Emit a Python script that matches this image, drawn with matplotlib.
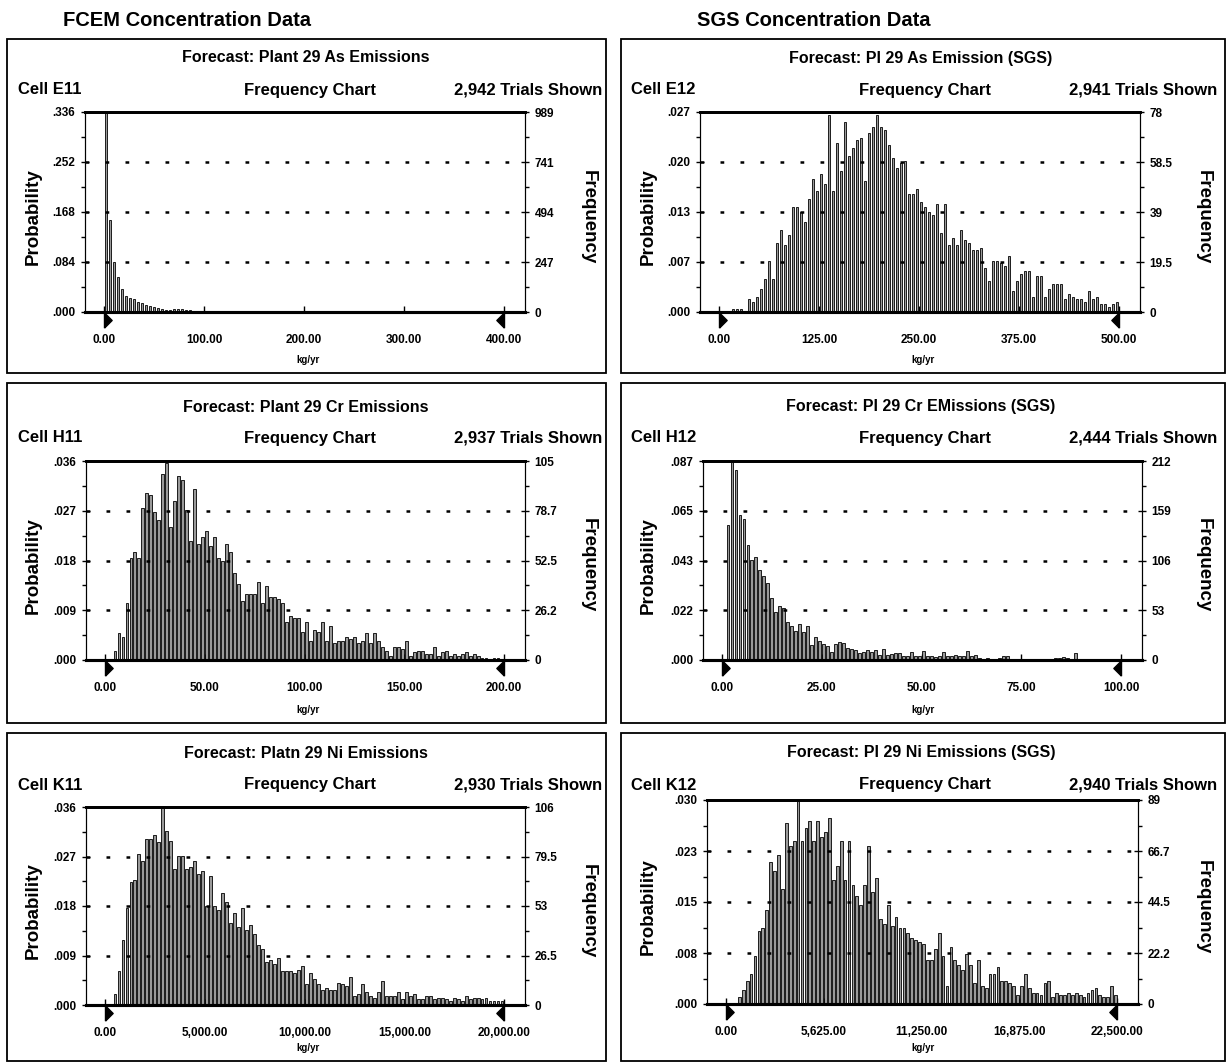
import matplotlib
matplotlib.use("Agg")
import matplotlib.pyplot as plt
from matplotlib.patches import Rectangle

plt.rcParams['font.family'] = ['Liberation Sans', 'DejaVu Sans']
plt.rcParams['font.weight'] = 'bold'

W, H = 1230, 1062

# ---- data (counts per cell, 100 cells each) ----
as_fcem = [985, 455, 245, 172, 112, 80, 70, 62, 50, 42, 35, 30, 24,
           20, 16, 12, 12, 14, 15, 13, 10,
           8, 6, 5, 4, 5, 5, 6, 4, 6, 3,
           3, 2, 2, 1, 2, 1, 1, 2, 1, 1,
           1, 0, 1, 1, 0, 1, 0, 0, 1, 0, 1, 0, 0, 1, 0, 0, 0, 0, 0] + [0] * 40

as_sgs = [0, 0, 0, 1, 1, 1, 0,
          5, 4, 6, 9, 13, 20, 13, 27, 32, 26, 30, 41, 41, 39, 35, 44, 52, 47, 54, 50,
          77, 47, 66, 55, 74, 61, 64, 67, 68, 51, 70, 72, 77, 72, 71, 65, 60, 56, 58, 59,
          46, 46, 48, 43, 41, 39, 38, 42, 31, 42, 26, 29, 26, 32, 28, 27, 24, 24, 25, 17,
          12, 20, 20, 19, 18, 22, 8, 12, 15, 16, 16, 6, 14, 14, 6, 9, 11, 11, 11, 5,
          7, 6, 5, 5, 4, 8, 5, 6, 3, 3, 2, 3, 4]

cr_fcem = [0, 0,
           5, 14, 12, 30, 54, 57, 54, 80, 88, 87, 78, 74, 98, 104, 70, 84, 97, 95, 79, 63,
           90, 61, 65, 68, 60, 65, 54, 52, 61, 57, 46, 40, 31, 35, 35, 35, 41, 30, 39, 33,
           33, 32, 30, 20, 23, 22, 22, 15, 20, 10, 16, 15, 20, 10, 18, 9, 10, 10, 12, 11,
           12, 9, 10, 14, 9, 14, 10, 7, 5, 2, 7, 7, 6, 10, 2, 4, 5, 5, 3, 3,
           7, 2, 4, 5,
           2, 3, 2, 3, 4, 2, 3, 2, 1, 1, 0, 1, 1, 0]

cr_sgs = [0,
          144, 212, 202, 155, 150, 122, 107, 110, 96, 90, 82, 66, 51, 58, 55, 40, 36, 31, 38, 30,
          36, 16, 25, 20, 17, 15, 9, 17, 19, 18, 13, 12, 11, 7, 8, 11, 9, 11, 5, 12,
          5, 6, 7, 7, 4, 4, 9, 4, 4, 10, 4, 4, 3, 4, 9, 4, 4, 5, 4, 4,
          10, 4, 5, 2, 1, 2, 1, 1, 2, 4, 4, 1, 1, 1, 1, 1, 1, 1, 1, 1,
          1, 1, 2, 2, 3,
          2, 1, 7, 0, 1, 1, 1, 1, 0, 1, 0, 0, 0, 0]

ni_fcem = [0, 0,
           6, 18, 35, 52, 66, 67, 81, 77, 89, 89, 91, 87, 106, 93, 88, 73, 80, 80, 73, 74,
           77, 70, 72, 53, 69, 53, 51, 60, 55, 44, 49, 42, 52, 40, 43, 38, 32, 30, 23, 24,
           22, 25, 18, 18, 18, 17, 19, 21, 11, 17, 14, 11, 8, 9, 8, 8, 12, 11, 10, 15,
           5, 6, 11, 7, 5, 4, 7, 13, 5, 5, 5, 7, 3, 7, 5, 6, 3, 3, 5, 5,
           3, 4, 4,
           3, 2, 4, 3, 2, 5, 3, 4, 4, 3, 4, 2, 2, 2, 2]

ni_sgs = [0, 0, 0,
          3, 6, 10, 13, 21, 32, 33, 41, 62, 58, 65, 50, 79, 69, 71, 89, 71, 77, 80, 71,
          80, 73, 75, 81, 54, 60, 71, 54, 71, 52, 47, 43, 52, 69, 49, 55, 37, 35, 43, 34,
          38, 33, 33, 31, 29, 28, 27, 26, 19, 19, 24, 31, 21, 8, 25, 19, 17, 15, 22, 17,
          9, 19, 8, 7, 13, 13, 16, 10, 10, 9, 8, 4, 8, 13, 7, 5, 5, 4, 9, 10,
          3, 5, 4,
          4, 5, 4, 5, 4, 3, 5, 6, 7, 4, 3, 3, 8, 4]

counts = [as_fcem, as_sgs, cr_fcem, cr_sgs, ni_fcem, ni_sgs]
x_max = [400, 500, 200, 100, 20000, 22500]
freq_top = [988, 78, 105, 212, 106, 89]

titles = ["Forecast: Plant 29 As Emissions", "Forecast: Pl 29 As Emission (SGS)",
          "Forecast: Plant 29 Cr Emissions", "Forecast: Pl 29 Cr EMissions (SGS)",
          "Forecast: Platn 29 Ni Emissions", "Forecast: Pl 29 Ni Emissions (SGS)"]
cells = ["Cell E11", "Cell E12", "Cell H11", "Cell H12", "Cell K11", "Cell K12"]
trials = ["2,942 Trials Shown", "2,941 Trials Shown", "2,937 Trials Shown",
          "2,444 Trials Shown", "2,930 Trials Shown", "2,940 Trials Shown"]
prob_labels = [[".000", ".084", ".168", ".252", ".336"],
               [".000", ".007", ".013", ".020", ".027"],
               [".000", ".009", ".018", ".027", ".036"],
               [".000", ".022", ".043", ".065", ".087"],
               [".000", ".009", ".018", ".027", ".036"],
               [".000", ".008", ".015", ".023", ".030"]]
freq_labels = [["0", "247", "494", "741", "989"],
               ["0", "19.5", "39", "58.5", "78"],
               ["0", "26.2", "52.5", "78.7", "105"],
               ["0", "53", "106", "159", "212"],
               ["0", "26.5", "53", "79.5", "106"],
               ["0", "22.2", "44.5", "66.7", "89"]]
x_labels = [["0.00", "100.00", "200.00", "300.00", "400.00"],
            ["0.00", "125.00", "250.00", "375.00", "500.00"],
            ["0.00", "50.00", "100.00", "150.00", "200.00"],
            ["0.00", "25.00", "50.00", "75.00", "100.00"],
            ["0.00", "5,000.00", "10,000.00", "15,000.00", "20,000.00"],
            ["0.00", "5,625.00", "11,250.00", "16,875.00", "22,500.00"]]

# ---- layout in pixels ----
col_box = [(7, 606), (621, 1225)]
col_cell = [18, 631]
col_mid = [306, 921]
col_right = [602, 1217]
col_prob = [33, 648]
col_freq = [588, 1203]
row_box = [(39, 373), (383, 723), (733, 1061)]
row_title = [58, 407, 753]
row_cell = [90, 438, 785]
row_kg = [360, 710, 1048]
plot_rects = [(85, 112, 525, 312), (700, 112, 1140, 312),
              (86, 461, 525, 660), (703, 461, 1142, 660),
              (86, 807, 525, 1005), (707, 800, 1138, 1004)]


def fx(x):
    return x / W


def fy(y):
    return 1 - y / H


fig = plt.figure(figsize=(W / 100, H / 100), dpi=100)

fig.text(fx(63), fy(20), "FCEM Concentration Data", ha='left', va='center', size=14.5, weight='bold')
fig.text(fx(697), fy(20), "SGS Concentration Data", ha='left', va='center', size=14.5, weight='bold')

flag_r = [(0, -1), (0, 1), (1, 0), (0, -1)]
flag_l = [(0, -1), (0, 1), (-1, 0), (0, -1)]

for k in range(6):
    c, r = k % 2, k // 2
    bx0, bx1 = col_box[c]
    by0, by1 = row_box[r]
    fig.patches.append(Rectangle((fx(bx0), fy(by1)), (bx1 - bx0) / W, (by1 - by0) / H,
                                 transform=fig.transFigure, fill=False, lw=1.3, ec='black'))

    fig.text(fx(col_mid[c]), fy(row_title[r]), titles[k], ha='center', va='center', size=11.5)
    fig.text(fx(col_cell[c]), fy(row_cell[r]), cells[k], ha='left', va='center', size=12)
    fig.text(fx(col_mid[c] + 4), fy(row_cell[r]), "Frequency Chart", ha='center', va='center', size=12)
    fig.text(fx(col_right[c]), fy(row_cell[r]), trials[k], ha='right', va='center', size=12)
    fig.text(fx(col_mid[c] + 2), fy(row_kg[r]), "kg/yr", ha='center', va='center', size=7)

    px0, py0, px1, py1 = plot_rects[k]
    mid_y = (py0 + py1) / 2 + 5
    fig.text(fx(col_prob[c]), fy(mid_y), "Probability", rotation=90, ha='center', va='center', size=13.5)
    fig.text(fx(col_freq[c]), fy(mid_y), "Frequency", rotation=270, ha='center', va='center', size=13.5)

    ax = fig.add_axes([fx(px0), fy(py1), (px1 - px0) / W, (py1 - py0) / H])
    n = len(counts[k])
    m = x_max[k]
    w = m / n
    centers = [(i + 0.5) * w for i in range(n)]
    ax.bar(centers, counts[k], width=w * 0.7, color='#9a9a9a', edgecolor='black', lw=0.6, zorder=2)

    top = freq_top[k]
    ax.set_xlim(-0.0475 * m, 1.0525 * m)
    ax.set_ylim(0, top)
    yt = [top * j / 4 for j in range(5)]
    for y in yt[1:4]:
        ax.axhline(y, color='black', lw=1.8, ls=(0, (1.5, 6.5)), dash_capstyle='butt', zorder=3)

    ax.set_yticks(yt)
    ax.set_yticklabels(prob_labels[k])
    ax.set_yticks([top * (j + 0.5) / 4 for j in range(4)], minor=True)
    ax.tick_params(axis='y', which='major', direction='inout', length=6, width=1, labelsize=8.5, pad=4)
    ax.tick_params(axis='y', which='minor', direction='out', length=3, width=1)
    ax.set_xticks([m * j / 4 for j in range(5)])
    ax.set_xticklabels(x_labels[k])
    ax.tick_params(axis='x', direction='in', length=4, width=1, labelsize=8.5, pad=16)

    ax2 = ax.twinx()
    ax2.set_ylim(0, top)
    ax2.set_yticks(yt)
    ax2.set_yticklabels(freq_labels[k])
    ax2.set_yticks([top * (j + 0.5) / 4 for j in range(4)], minor=True)
    ax2.tick_params(axis='y', which='major', direction='inout', length=6, width=1, labelsize=8.5, pad=4)
    ax2.tick_params(axis='y', which='minor', direction='out', length=3, width=1)

    for a in (ax, ax2):
        a.spines['top'].set_linewidth(2)
        a.spines['bottom'].set_linewidth(2.2)
        a.spines['left'].set_linewidth(0.8)
        a.spines['right'].set_linewidth(0.8)

    fy_flag = -0.04 * top
    ax.plot([0], [fy_flag], marker=flag_r, ms=11, color='black', clip_on=False, zorder=5)
    ax.plot([m], [fy_flag], marker=flag_l, ms=11, color='black', clip_on=False, zorder=5)

fig.savefig("out.png", dpi=100)
